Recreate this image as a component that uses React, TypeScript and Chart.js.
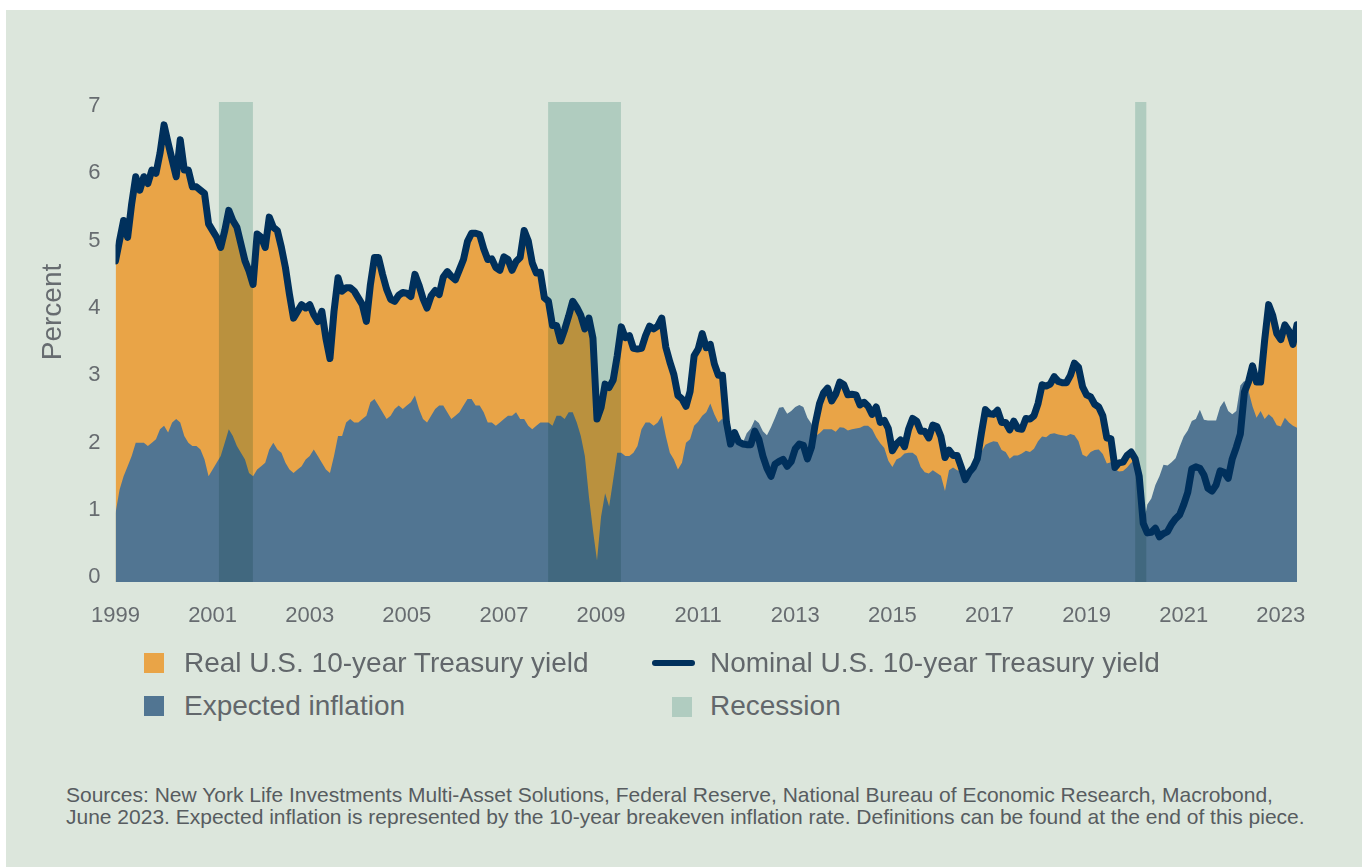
import React, { useEffect, useRef } from 'react';
import { Chart, registerables } from 'chart.js';

Chart.register(...registerables);

// ---------- DATA (monthly, Jan 1999 – May 2023) ----------
const START_YEAR = 1999;

// Nominal U.S. 10-year Treasury yield (%)
const nominalYield = [
  // 1999
  4.70, 5.00, 5.30, 5.05, 5.55, 5.95, 5.75, 5.95, 5.85, 6.05, 6.00, 6.30,
  // 2000
  6.72, 6.45, 6.20, 5.95, 6.50, 6.05, 6.05, 5.80, 5.80, 5.75, 5.70, 5.25,
  // 2001
  5.15, 5.05, 4.90, 5.15, 5.45, 5.30, 5.20, 4.95, 4.70, 4.55, 4.35, 5.10,
  // 2002
  5.05, 4.90, 5.35, 5.20, 5.15, 4.90, 4.60, 4.20, 3.85, 3.95, 4.05, 4.00,
  // 2003
  4.05, 3.90, 3.80, 3.95, 3.55, 3.25, 3.95, 4.45, 4.25, 4.30, 4.30, 4.25,
  // 2004
  4.15, 4.05, 3.80, 4.35, 4.75, 4.75, 4.50, 4.28, 4.13, 4.10, 4.19, 4.23,
  // 2005
  4.22, 4.17, 4.50, 4.34, 4.14, 4.00, 4.18, 4.26, 4.20, 4.46, 4.54, 4.47,
  // 2006
  4.42, 4.57, 4.72, 4.99, 5.11, 5.11, 5.09, 4.88, 4.72, 4.73, 4.60, 4.56,
  // 2007
  4.76, 4.72, 4.56, 4.69, 4.75, 5.15, 5.00, 4.67, 4.52, 4.53, 4.15, 4.10,
  // 2008
  3.74, 3.74, 3.51, 3.68, 3.88, 4.10, 4.01, 3.89, 3.69, 3.85, 3.55, 2.35,
  // 2009
  2.52, 2.87, 2.82, 2.93, 3.29, 3.72, 3.56, 3.59, 3.40, 3.39, 3.40, 3.59,
  // 2010
  3.73, 3.69, 3.73, 3.85, 3.42, 3.20, 3.01, 2.70, 2.65, 2.54, 2.76, 3.29,
  // 2011
  3.39, 3.62, 3.41, 3.46, 3.17, 3.00, 3.00, 2.30, 1.98, 2.15, 2.01, 1.98,
  // 2012
  1.97, 1.97, 2.17, 2.05, 1.80, 1.62, 1.50, 1.68, 1.72, 1.75, 1.65, 1.72,
  // 2013
  1.91, 1.98, 1.96, 1.76, 1.93, 2.30, 2.58, 2.74, 2.81, 2.62, 2.72, 2.90,
  // 2014
  2.86, 2.71, 2.72, 2.71, 2.56, 2.60, 2.54, 2.42, 2.53, 2.30, 2.33, 2.21,
  // 2015
  1.88, 1.98, 2.04, 1.94, 2.20, 2.36, 2.32, 2.17, 2.17, 2.07, 2.26, 2.24,
  // 2016
  2.09, 1.78, 1.89, 1.81, 1.81, 1.64, 1.45, 1.56, 1.63, 1.76, 2.14, 2.49,
  // 2017
  2.43, 2.42, 2.48, 2.30, 2.30, 2.19, 2.32, 2.21, 2.20, 2.36, 2.35, 2.40,
  // 2018
  2.58, 2.86, 2.84, 2.87, 2.98, 2.91, 2.89, 2.89, 3.00, 3.18, 3.12, 2.83,
  // 2019
  2.71, 2.68, 2.57, 2.53, 2.40, 2.07, 2.06, 1.63, 1.70, 1.71, 1.81, 1.86,
  // 2020
  1.76, 1.50, 0.80, 0.66, 0.67, 0.73, 0.60, 0.65, 0.68, 0.79, 0.87, 0.93,
  // 2021
  1.08, 1.26, 1.61, 1.64, 1.62, 1.52, 1.32, 1.28, 1.37, 1.58, 1.56, 1.47,
  // 2022
  1.76, 1.93, 2.13, 2.75, 2.90, 3.14, 2.90, 2.90, 3.52, 4.05, 3.89, 3.62,
  // 2023
  3.53, 3.75, 3.66, 3.46, 3.75,
];

// Expected inflation: 10-year breakeven inflation rate (%)
const expectedInflation = [
  // 1999
  0.95, 1.30, 1.50, 1.65, 1.80, 2.00, 2.00, 2.00, 1.95, 2.00, 2.05, 2.20,
  // 2000
  2.25, 2.15, 2.30, 2.35, 2.30, 2.10, 2.00, 1.95, 1.95, 1.90, 1.75, 1.50,
  // 2001
  1.60, 1.70, 1.80, 2.00, 2.20, 2.10, 1.95, 1.85, 1.75, 1.55, 1.50, 1.60,
  // 2002
  1.65, 1.70, 1.90, 2.00, 1.90, 1.85, 1.70, 1.60, 1.55, 1.60, 1.65, 1.75,
  // 2003
  1.80, 1.90, 1.80, 1.70, 1.60, 1.55, 1.80, 2.10, 2.10, 2.30, 2.35, 2.30,
  // 2004
  2.30, 2.35, 2.40, 2.60, 2.65, 2.55, 2.45, 2.35, 2.40, 2.50, 2.55, 2.50,
  // 2005
  2.55, 2.60, 2.70, 2.50, 2.35, 2.30, 2.40, 2.50, 2.55, 2.55, 2.45, 2.35,
  // 2006
  2.40, 2.45, 2.55, 2.65, 2.65, 2.55, 2.55, 2.45, 2.30, 2.30, 2.25, 2.30,
  // 2007
  2.35, 2.40, 2.40, 2.45, 2.35, 2.35, 2.25, 2.20, 2.25, 2.30, 2.30, 2.30,
  // 2008
  2.25, 2.40, 2.40, 2.35, 2.45, 2.45, 2.30, 2.10, 1.80, 1.20, 0.70, 0.25,
  // 2009
  0.90, 1.25, 1.05, 1.45, 1.85, 1.85, 1.80, 1.80, 1.85, 1.95, 2.20, 2.30,
  // 2010
  2.30, 2.25, 2.30, 2.40, 2.10, 1.85, 1.75, 1.60, 1.70, 2.00, 2.05, 2.25,
  // 2011
  2.31, 2.40, 2.45, 2.58, 2.42, 2.30, 2.36, 2.16, 1.98, 2.02, 1.98, 1.99,
  // 2012
  2.14, 2.21, 2.34, 2.29, 2.17, 2.11, 2.23, 2.37, 2.52, 2.53, 2.43, 2.47,
  // 2013
  2.53, 2.56, 2.53, 2.37, 2.28, 2.10, 2.14, 2.20, 2.20, 2.20, 2.16, 2.23,
  // 2014
  2.22, 2.18, 2.20, 2.21, 2.22, 2.25, 2.25, 2.20, 2.08, 1.99, 1.92, 1.73,
  // 2015
  1.64, 1.75, 1.78, 1.84, 1.85, 1.85, 1.80, 1.64, 1.56, 1.54, 1.59, 1.55,
  // 2016
  1.51, 1.28, 1.59, 1.63, 1.59, 1.57, 1.47, 1.51, 1.60, 1.68, 1.86, 1.97,
  // 2017
  2.00, 2.02, 2.01, 1.89, 1.86, 1.76, 1.81, 1.81, 1.84, 1.88, 1.86, 1.91,
  // 2018
  2.02, 2.09, 2.08, 2.13, 2.14, 2.12, 2.11, 2.10, 2.13, 2.11, 2.02, 1.82,
  // 2019
  1.79, 1.86, 1.89, 1.90, 1.83, 1.69, 1.71, 1.61, 1.57, 1.58, 1.63, 1.70,
  // 2020
  1.73, 1.62, 0.75, 1.08, 1.17, 1.37, 1.50, 1.67, 1.66, 1.71, 1.77, 1.94,
  // 2021
  2.09, 2.18, 2.32, 2.35, 2.49, 2.34, 2.33, 2.33, 2.33, 2.53, 2.62, 2.47,
  // 2022
  2.42, 2.47, 2.85, 2.92, 2.77, 2.54, 2.37, 2.47, 2.35, 2.42, 2.37, 2.26,
  // 2023
  2.24, 2.37, 2.30, 2.25, 2.22,
];

// Recession periods (decimal years)
const recessionStarts = [2001.13, 2007.91, 2020.0];
const recessionEnds = [2001.83, 2009.41, 2020.23];

const xTickYears = [1999, 2001, 2003, 2005, 2007, 2009, 2011, 2013, 2015, 2017, 2019, 2021, 2023];
const yTickValues = [0, 1, 2, 3, 4, 5, 6, 7];

const legendLabels = {
  real: 'Real U.S. 10-year Treasury yield',
  nominal: 'Nominal U.S. 10-year Treasury yield',
  inflation: 'Expected inflation',
  recession: 'Recession',
};
const yTitle = 'Percent';
const footerLines = [
  'Sources: New York Life Investments Multi-Asset Solutions, Federal Reserve, National Bureau of Economic Research, Macrobond,',
  'June 2023. Expected inflation is represented by the 10-year breakeven inflation rate. Definitions can be found at the end of this piece.',
];

// ---------- STYLE ----------
const C = {
  bg: '#dce6dc',
  orange: '#e9a447',
  blue: '#517592',
  navy: '#00305c',
  recessionMul: '#cce2de',
  recessionSwatch: '#b0ccc0',
  tick: '#676c70',
  text: '#62676b',
  footer: '#575c60',
};
const FONT = '"Liberation Sans", Arial, Helvetica, sans-serif';

export default function App() {
  const canvasRef = useRef<HTMLCanvasElement | null>(null);

  useEffect(() => {
    document.body.style.margin = '0';
    const canvas = canvasRef.current;
    if (!canvas) return;

    const xs = nominalYield.map((_, i) => START_YEAR + i / 12);
    const nominalPts = nominalYield.map((v, i) => ({ x: xs[i], y: v }));
    const inflationPts = expectedInflation.map((v, i) => ({ x: xs[i], y: v }));

    const bgPlugin = {
      id: 'bgFill',
      beforeDraw(chart: any) {
        const { ctx, width, height } = chart;
        ctx.save();
        ctx.fillStyle = C.bg;
        ctx.fillRect(0, 0, width, height);
        ctx.restore();
      },
    };

    const recessionPlugin = {
      id: 'recessionBands',
      afterDatasetDraw(chart: any, args: any) {
        if (args.index !== 1) return;
        const { ctx, chartArea, scales } = chart;
        ctx.save();
        ctx.globalCompositeOperation = 'multiply';
        ctx.fillStyle = C.recessionMul;
        recessionStarts.forEach((s, i) => {
          const x1 = scales.x.getPixelForValue(s);
          const x2 = scales.x.getPixelForValue(recessionEnds[i]);
          ctx.fillRect(x1, chartArea.top, x2 - x1, chartArea.bottom - chartArea.top);
        });
        ctx.restore();
      },
    };

    const titlePlugin = {
      id: 'yTitle',
      afterDraw(chart: any) {
        const { ctx } = chart;
        ctx.save();
        ctx.translate(47, 302);
        ctx.rotate(-Math.PI / 2);
        ctx.font = `28px ${FONT}`;
        ctx.fillStyle = C.tick;
        ctx.textAlign = 'center';
        ctx.textBaseline = 'middle';
        ctx.fillText(yTitle, 0, 0);
        ctx.restore();
      },
    };

    const chart = new Chart(canvas, {
      type: 'line',
      data: {
        datasets: [
          {
            label: legendLabels.real,
            data: nominalPts,
            fill: 'start',
            backgroundColor: C.orange,
            borderColor: 'transparent',
            borderWidth: 0,
            pointRadius: 0,
            order: 3,
          },
          {
            label: legendLabels.inflation,
            data: inflationPts,
            fill: 'start',
            backgroundColor: C.blue,
            borderColor: 'transparent',
            borderWidth: 0,
            pointRadius: 0,
            order: 2,
          },
          {
            label: legendLabels.nominal,
            data: nominalPts,
            fill: false,
            borderColor: C.navy,
            borderWidth: 7,
            borderJoinStyle: 'round',
            borderCapStyle: 'round',
            pointRadius: 0,
            order: 1,
          },
        ],
      },
      options: {
        responsive: false,
        animation: false,
        devicePixelRatio: 1,
        parsing: false as any,
        normalized: true,
        layout: { padding: { top: 92, left: 0, right: 65, bottom: 8 } },
        plugins: {
          legend: { display: false },
          tooltip: { enabled: false },
        },
        scales: {
          x: {
            type: 'linear',
            min: 1999,
            max: START_YEAR + (nominalYield.length - 1) / 12,
            grid: { display: false, drawTicks: false },
            border: { display: false },
            afterBuildTicks: (s: any) => {
              s.ticks = xTickYears.map((v) => ({ value: v }));
            },
            afterFit: (s: any) => {
              s.height = 60;
            },
            ticks: {
              autoSkip: false,
              maxRotation: 0,
              padding: 21,
              color: C.tick,
              font: { family: FONT, size: 22 },
              callback: (v: any) => String(v),
            },
          },
          y: {
            type: 'linear',
            min: -0.07,
            max: 7.06,
            grid: { display: false, drawTicks: false },
            border: { display: false },
            afterBuildTicks: (s: any) => {
              s.ticks = yTickValues.map((v) => ({ value: v }));
            },
            afterFit: (s: any) => {
              s.width = 109.5;
            },
            ticks: {
              padding: 15,
              color: C.tick,
              font: { family: FONT, size: 22 },
              callback: (v: any) => String(v),
            },
          },
        },
      },
      plugins: [bgPlugin, recessionPlugin, titlePlugin],
    } as any);

    return () => chart.destroy();
  }, []);

  const legendText: React.CSSProperties = {
    position: 'absolute',
    fontFamily: FONT,
    fontSize: 28,
    lineHeight: '32px',
    height: 32,
    color: C.text,
    whiteSpace: 'nowrap',
  };
  const swatch = (left: number, top: number, color: string): React.CSSProperties => ({
    position: 'absolute',
    left,
    top,
    width: 20,
    height: 20,
    background: color,
  });

  return (
    <div style={{ position: 'fixed', left: 0, top: 0, width: 1367, height: 867, background: '#ffffff', overflow: 'hidden' }}>
      <div style={{ position: 'absolute', left: 6, top: 10, width: 1356, height: 857, background: C.bg }}>
        <canvas ref={canvasRef} width={1356} height={640} style={{ position: 'absolute', left: 0, top: 0, width: 1356, height: 640 }} />

        <div style={swatch(138, 643, C.orange)} />
        <div style={{ ...legendText, left: 178, top: 637 }}>{legendLabels.real}</div>

        <div style={swatch(138, 686, C.blue)} />
        <div style={{ ...legendText, left: 178, top: 680 }}>{legendLabels.inflation}</div>

        <div style={{ position: 'absolute', left: 646, top: 650, width: 43, height: 6, borderRadius: 3, background: C.navy }} />
        <div style={{ ...legendText, left: 704, top: 637 }}>{legendLabels.nominal}</div>

        <div style={swatch(666, 687, C.recessionSwatch)} />
        <div style={{ ...legendText, left: 704, top: 680 }}>{legendLabels.recession}</div>

        <div style={{ position: 'absolute', left: 60, top: 774, fontFamily: FONT, fontSize: 21, lineHeight: '22px', color: C.footer, whiteSpace: 'nowrap' }}>
          {footerLines.map((l, i) => (
            <div key={i}>{l}</div>
          ))}
        </div>
      </div>
    </div>
  );
}
